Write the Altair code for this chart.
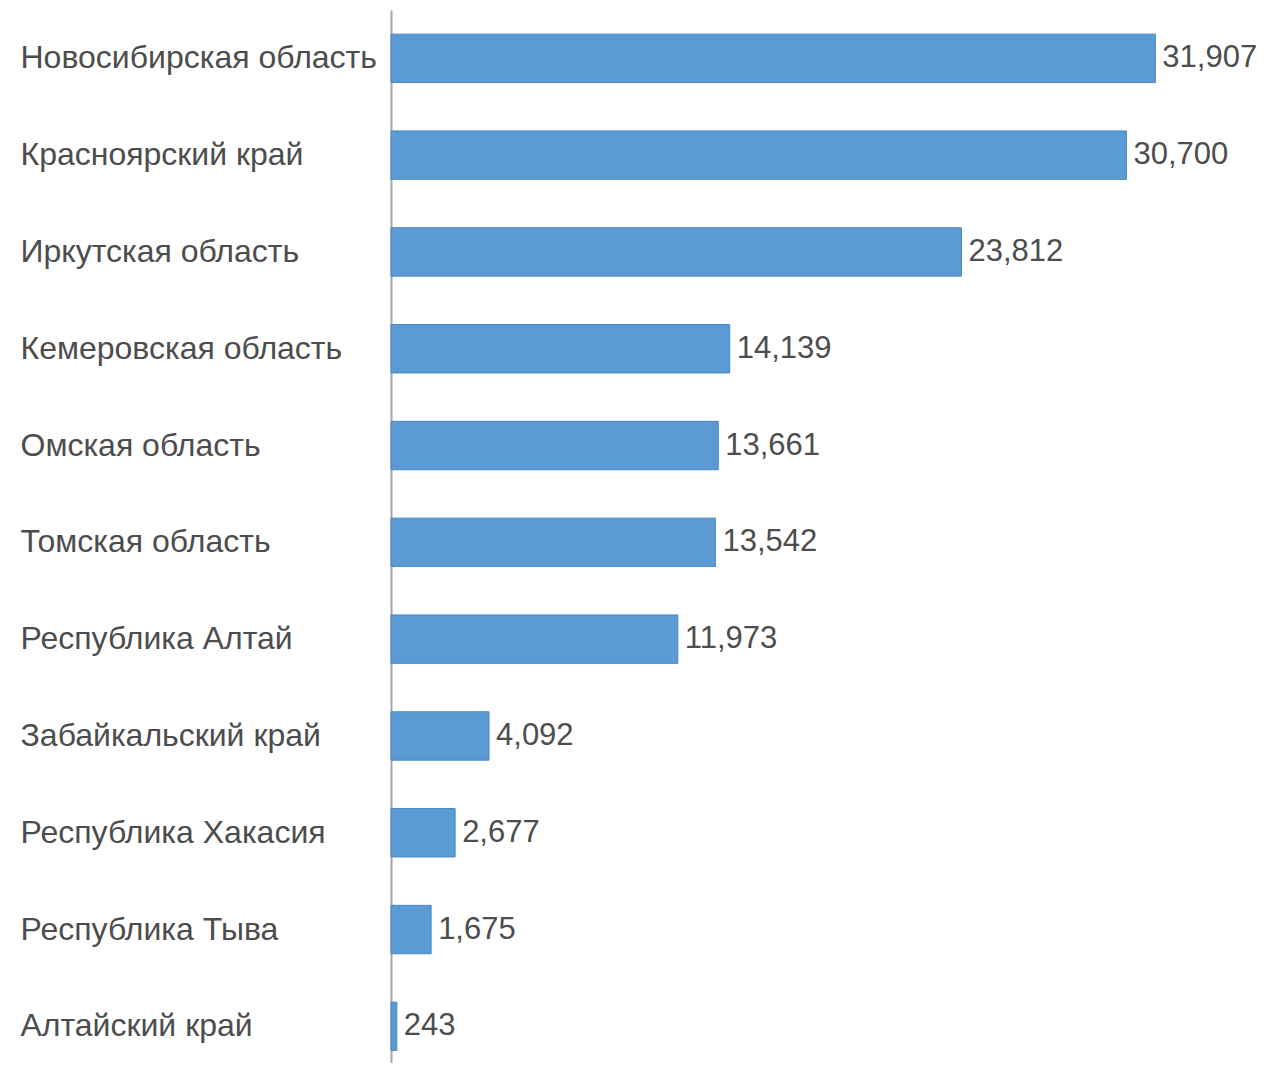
import altair as alt
import pandas as pd

regions = [
    "Новосибирская область",
    "Красноярский край",
    "Иркутская область",
    "Кемеровская область",
    "Омская область",
    "Томская область",
    "Республика Алтай",
    "Забайкальский край",
    "Республика Хакасия",
    "Республика Тыва",
    "Алтайский край",
]
values = [31907, 30700, 23812, 14139, 13661, 13542, 11973, 4092, 2677, 1675, 243]

df = pd.DataFrame({"region": regions, "value": values})

TEXT = "#4d4d4d"
FONT = "Liberation Sans"

y_enc = alt.Y(
    "region:N",
    sort=regions,
    scale=alt.Scale(paddingInner=0.5, paddingOuter=0.189, align=0.66),
    axis=alt.Axis(
        title=None,
        ticks=False,
        grid=False,
        labelAlign="left",
        labelPadding=371,
        labelFontSize=32,
        labelFont=FONT,
        labelColor=TEXT,
        domainColor="#a6a6a6",
        domainWidth=2,
        labelLimit=0,
    ),
)
x_enc = alt.X(
    "value:Q",
    scale=alt.Scale(domain=[0, 35900], nice=False),
    axis=None,
)

bars = alt.Chart(df).mark_bar(
    color="#5B9BD5", stroke="#4a88c4", strokeWidth=1
).encode(x=x_enc, y=y_enc)

labels = alt.Chart(df).mark_text(
    align="left", baseline="middle", dx=7, fontSize=31, font=FONT, color=TEXT
).encode(
    x=x_enc,
    y=alt.Y("region:N", sort=regions),
    text=alt.Text("value:Q", format=",d"),
)

chart = (
    alt.layer(bars, labels)
    .properties(
        width=860,
        height=1053,
        padding={"left": 383, "top": 2, "right": 9, "bottom": 0},
        autosize=alt.AutoSizeParams(type="none"),
        background="white",
    )
    .configure_view(strokeWidth=0, stroke="transparent")
)

chart.save("out.html", embed_options={"renderer": "svg", "actions": False})
